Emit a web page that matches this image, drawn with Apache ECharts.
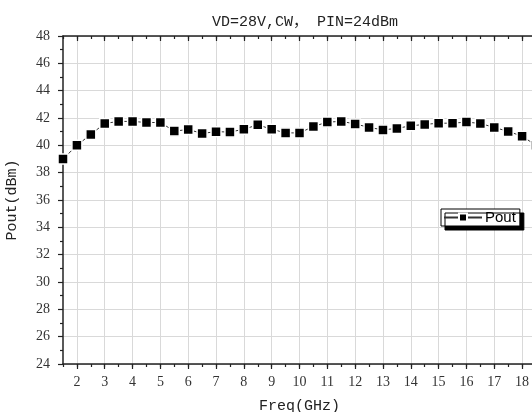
<!DOCTYPE html>
<html>
<head>
<meta charset="utf-8">
<script src="https://cdn.jsdelivr.net/npm/echarts@6/dist/echarts.min.js"></script>
<style>
  html, body { margin: 0; padding: 0; background: #fff; }
  #main { width: 532px; height: 412px; }
</style>
</head>
<body>
<div id="main"></div>
<script>
// 频率 (GHz) 与输出功率 (dBm)
var freq = [1.5, 2, 2.5, 3, 3.5, 4, 4.5, 5, 5.5, 6, 6.5, 7, 7.5, 8, 8.5, 9, 9.5, 10,
  10.5, 11, 11.5, 12, 12.5, 13, 13.5, 14, 14.5, 15, 15.5, 16, 16.5, 17, 17.5, 18, 18.5];
var pout = [39.0, 40.0, 40.8, 41.6, 41.75, 41.75, 41.67, 41.67, 41.04, 41.16, 40.87, 41.0,
  40.97, 41.18, 41.5, 41.18, 40.91, 40.91, 41.38, 41.7, 41.75, 41.57, 41.31, 41.13, 41.24,
  41.43, 41.53, 41.62, 41.62, 41.7, 41.6, 41.31, 41.02, 40.67, 40.0];
var xTicks = [2, 3, 4, 5, 6, 7, 8, 9, 10, 11, 12, 13, 14, 15, 16, 17, 18];

var chart = echarts.init(document.getElementById('main'));

var serif = "'Liberation Serif', 'Noto Sans CJK SC', serif";
var mono = "'Liberation Mono', 'Noto Sans CJK SC', monospace";
var axisColor = '#222';
var gridColor = '#d9d9d9';

var points = [];
for (var i = 0; i < freq.length; i++) {
  points.push([freq[i], pout[i]]);
}

// 主刻度轴 + 次刻度轴（上下各一套）
function xAxisCfg(pos, major) {
  var cfg = {
    type: 'value',
    position: pos,
    min: 1.5,
    max: 18.5,
    interval: major ? 1 : 0.5,
    axisLine: { show: major, lineStyle: { color: axisColor, width: 1.5 } },
    axisTick: {
      show: true,
      inside: pos == 'top',
      length: major ? 5 : 3,
      lineStyle: { color: axisColor, width: 1.2 }
    },
    axisLabel: { show: false },
    splitLine: { show: false }
  };
  if (major) {
    cfg.axisTick.customValues = xTicks;
  }
  return cfg;
}

var mainX = xAxisCfg('bottom', true);
mainX.axisLabel = {
  show: true,
  customValues: xTicks,
  margin: 11,
  color: '#333',
  fontFamily: serif,
  fontSize: 14
};
mainX.splitLine = { show: true, lineStyle: { color: gridColor, width: 1 } };
mainX.name = 'Freq(GHz)';
mainX.nameLocation = 'middle';
mainX.nameGap = 35;
mainX.nameTextStyle = { color: '#222', fontFamily: mono, fontSize: 15 };

var option = {
  backgroundColor: '#fff',
  animation: false,
  title: {
    text: 'VD=28V,CW， PIN=24dBm',
    left: 300,
    textAlign: 'center',
    top: 10,
    textStyle: { color: '#222', fontFamily: mono, fontSize: 15, fontWeight: 'normal' }
  },
  grid: { left: 63, right: -4, top: 36, bottom: 48, containLabel: false, outerBoundsMode: 'none' },
  legend: {
    left: 441,
    top: 209,
    padding: [1, 4, 1, 2],
    itemWidth: 38,
    itemHeight: 10,
    itemGap: 4,
    backgroundColor: '#fff',
    borderColor: '#000',
    borderWidth: 1,
    borderRadius: 0,
    shadowColor: '#000',
    shadowBlur: 0,
    shadowOffsetX: 4,
    shadowOffsetY: 4,
    textStyle: { color: '#000', fontFamily: "'Liberation Sans', Arial, sans-serif", fontSize: 15, padding: [0, 0, 0, -2] },
    data: ['Pout']
  },
  xAxis: [
    mainX,
    xAxisCfg('bottom', false),
    xAxisCfg('top', true),
    xAxisCfg('top', false)
  ],
  yAxis: {
    type: 'value',
    min: 24,
    max: 48,
    interval: 2,
    name: 'Pout(dBm)',
    nameLocation: 'middle',
    nameGap: 43,
    nameTextStyle: { color: '#222', fontFamily: mono, fontSize: 15 },
    axisLine: { show: true, lineStyle: { color: axisColor, width: 1.5 } },
    axisTick: { show: true, length: 5, lineStyle: { color: axisColor, width: 1.2 } },
    minorTick: { show: true, splitNumber: 2, length: 3, lineStyle: { color: axisColor, width: 1.2 } },
    axisLabel: { margin: 13, color: '#333', fontFamily: serif, fontSize: 14 },
    splitLine: { show: true, lineStyle: { color: gridColor, width: 1 } }
  },
  series: [{
    name: 'Pout',
    type: 'line',
    xAxisIndex: 0,
    data: points,
    symbol: 'rect',
    symbolSize: 10,
    showAllSymbol: true,
    lineStyle: { color: '#333', width: 1 },
    itemStyle: { color: '#000', borderColor: '#fff', borderWidth: 1.5 }
  }]
};

chart.setOption(option);
</script>
</body>
</html>
